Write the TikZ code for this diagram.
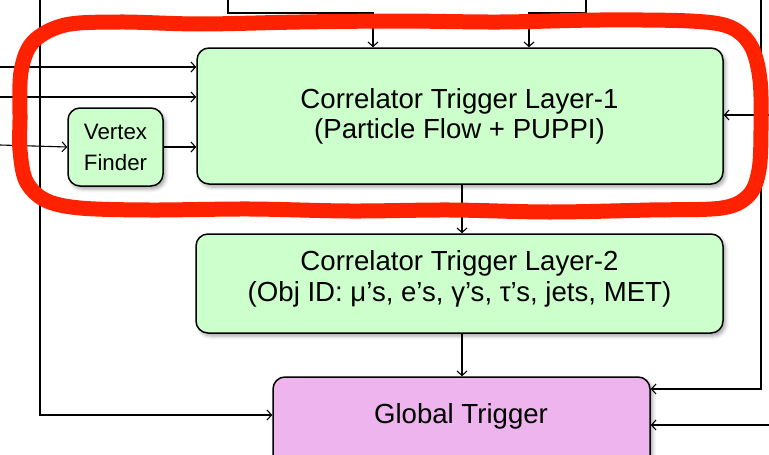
\documentclass[tikz,border=0pt]{standalone}
\usepackage{fontspec}
\setmainfont{Liberation Sans}
\usetikzlibrary{arrows.meta,shadows.blur}

\definecolor{boxgreen}{RGB}{204,255,204}
\definecolor{boxpink}{RGB}{238,180,238}
\definecolor{markred}{RGB}{255,34,0}

\begin{document}
\begin{tikzpicture}[x=1pt,y=-1pt,
  blockbox/.style={draw=black, line width=1.5pt, rounded corners=12pt,
    inner sep=0pt,
    blur shadow={shadow xshift=2.5pt, shadow yshift=-3pt,
      shadow blur radius=3.5pt, shadow opacity=35}},
  greenbox/.style={blockbox, fill=boxgreen},
  pinkbox/.style={blockbox, fill=boxpink},
  bigtext/.style={align=center, inner sep=0pt,
    font=\fontsize{27.6}{30.5}\selectfont},
  smalltext/.style={align=center, inner sep=0pt,
    font=\fontsize{22.3}{31}\selectfont},
  arr/.style={draw=black, line width=1.1pt,
    -{Straight Barb[length=4.5pt,width=10pt]}},
  markloop/.style={draw=markred, line width=15pt, line join=round}
]
\useasboundingbox (0,0) rectangle (769,455);
\clip (0,0) rectangle (769,455);

% blocks
\node[greenbox, minimum width=526pt, minimum height=136pt] (ctl1) at (460,116) {};
\node[greenbox, minimum width=95pt, minimum height=78pt] (vf) at (115.5,147) {};
\node[greenbox, minimum width=527pt, minimum height=99pt] (ctl2) at (459.5,283.5) {};
\node[pinkbox, minimum width=377pt, minimum height=110pt] (gt) at (461.5,432) {};

% block labels
\node[bigtext] (ctl1text) at (459.5,116.5) {Correlator Trigger Layer-1\\(Particle Flow + PUPPI)};
\node[smalltext] (vftext) at (115.5,147) {Vertex\\Finder};
\node[bigtext] (ctl2text) at (459.5,279) {Correlator Trigger Layer-2\\(Obj ID: μ’s, e’s, γ’s, τ’s, jets, MET)};
\node[bigtext] (gttext) at (461,416) {Global Trigger};

% free ends of the connectors at the frame
\coordinate (topA) at (228,0);
\coordinate (topAx) at (373,0);
\coordinate (topB) at (586,0);
\coordinate (topBx) at (529,0);
\coordinate (inL1) at (0,67);
\coordinate (inL2) at (0,97);
\coordinate (inL3) at (0,145);
\coordinate (inR1) at (769,115);
\coordinate (inR2) at (769,425);
\coordinate (leftrail) at (40,0);
\coordinate (rightrail) at (761,0);
\coordinate (spine) at (462,0);

% inputs to layer 1
\draw[arr] (topA) |- (topAx |- 0,13) -- (topAx |- ctl1.north);
\draw[arr] (topB) |- (topBx |- 0,13) -- (topBx |- ctl1.north);
\draw[arr] (inL1) -- (inL1 -| ctl1.west);
\draw[arr] (inL2) -- (inL2 -| ctl1.west);
\draw[arr] (inL3) -- (vf.west);
\draw[arr] (vf.east) -- (vf.east -| ctl1.west);
\draw[arr] (inR1) -- (inR1 -| ctl1.east);

% layer chain
\draw[arr] (spine |- ctl1.south) -- (spine |- ctl2.north);
\draw[arr] (spine |- ctl2.south) -- (spine |- gt.north);

% inputs to the global trigger
\draw[arr] (leftrail) |- (gt.west |- 0,415);
\draw[arr] (rightrail) |- (gt.east |- 0,389);
\draw[arr] (inR2) -- (gt.east |- inR2);

% hand-drawn highlight around layer 1
\draw[markloop] plot[smooth cycle, tension=0.55] coordinates {
  (20,120) (21,72) (33,42) (65,25) (120,22) (200,24) (300,22) (400,21)
  (500,22) (600,20) (690,21) (730,27) (751,46) (760,80) (761,130)
  (759,170) (749,195) (722,208) (650,210) (550,212) (450,210) (350,211)
  (250,209) (150,210) (80,208) (45,200) (26,181) (20,150)};
\end{tikzpicture}
\end{document}
